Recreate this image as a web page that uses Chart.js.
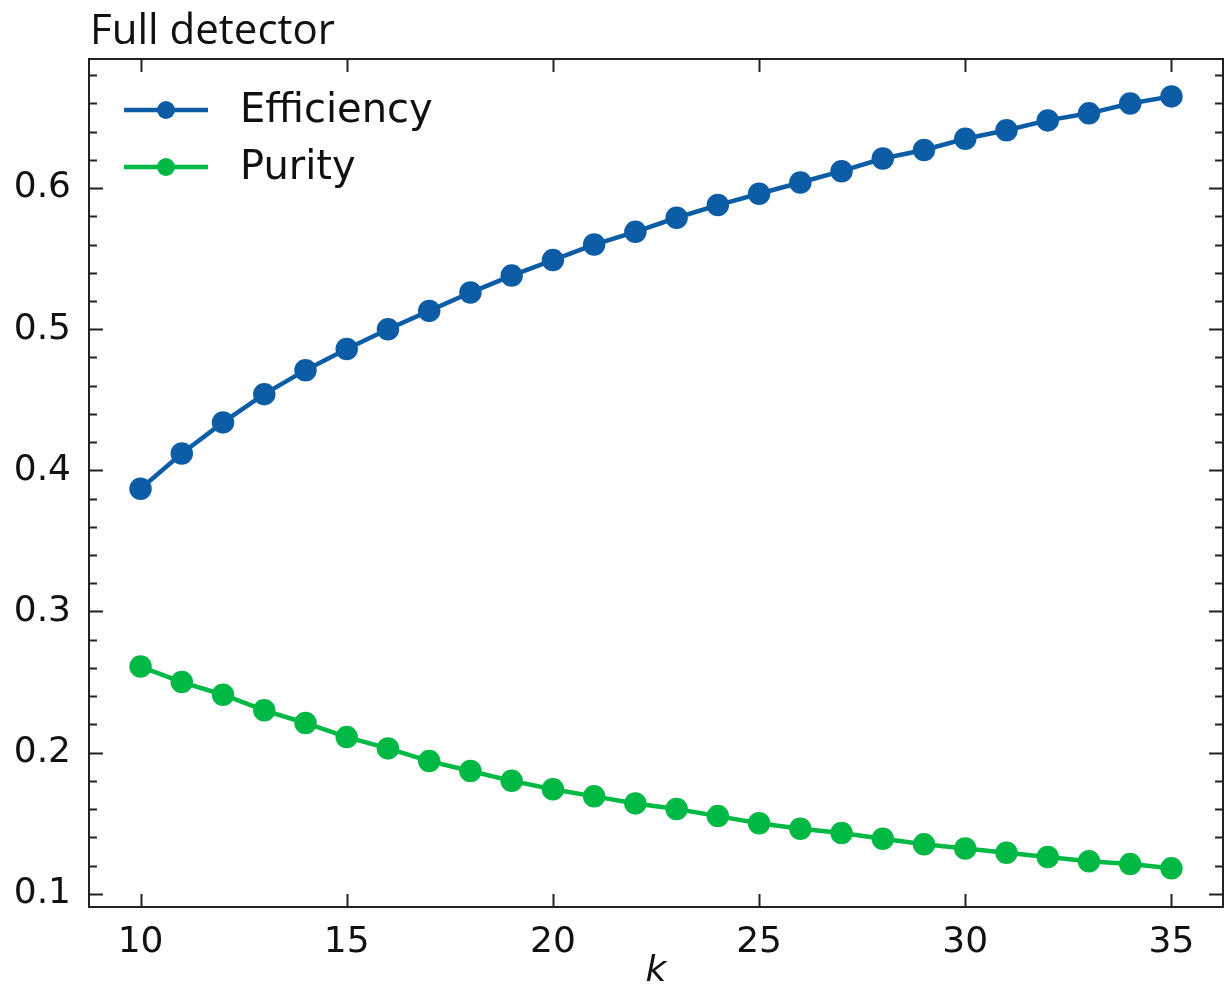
<!DOCTYPE html>
<html>
<head>
<meta charset="utf-8">
<script src="https://cdn.jsdelivr.net/npm/chart.js@4/dist/chart.umd.min.js"></script>
<style>
  html, body { margin: 0; padding: 0; background: #fff; overflow: hidden; }
  canvas { display: block; }
</style>
</head>
<body>
<canvas id="chart-1" width="1225" height="993"></canvas>
<script>
const kValues = [10, 11, 12, 13, 14, 15, 16, 17, 18, 19, 20, 21, 22, 23, 24, 25, 26, 27, 28, 29, 30, 31, 32, 33, 34, 35];
const efficiency = [0.387, 0.412, 0.434, 0.454, 0.471, 0.486, 0.500, 0.513, 0.526, 0.538, 0.549, 0.560, 0.569,
  0.579, 0.588, 0.596, 0.604, 0.612, 0.621, 0.627, 0.635, 0.641, 0.648, 0.653, 0.660, 0.665];
const purity = [0.261, 0.250, 0.241, 0.230, 0.221, 0.211, 0.203, 0.194, 0.187, 0.180, 0.174, 0.169, 0.164,
  0.160, 0.155, 0.150, 0.146, 0.143, 0.139, 0.135, 0.132, 0.129, 0.126, 0.123, 0.121, 0.118];
const xTicks = [10, 15, 20, 25, 30, 35];
const yTicks = [0.1, 0.2, 0.3, 0.4, 0.5, 0.6];

const blue = "#0c5da5";
const green = "#00b945";
const tickFont = { family: "DejaVu Sans", size: 36 };

function points(ys) {
  return kValues.map((k, i) => ({ x: k, y: ys[i] }));
}

// frame, inward ticks and legend inside the axes, matplotlib style
const framePlugin = {
  id: "frame",
  afterDraw(chart) {
    const { ctx, chartArea: a, scales } = chart;
    const xs = scales.x, ys = scales.y;
    ctx.save();
    ctx.strokeStyle = "#222";
    ctx.lineWidth = 2;
    ctx.strokeRect(a.left, a.top, a.right - a.left, a.bottom - a.top);
    ctx.beginPath();
    xTicks.forEach(v => {
      const px = Math.round(xs.getPixelForValue(v)) + 0.5;
      ctx.moveTo(px, a.bottom); ctx.lineTo(px, a.bottom - 13);
      ctx.moveTo(px, a.top); ctx.lineTo(px, a.top + 13);
    });
    for (let i = 5; i <= 34; i++) {
      const v = i / 50;
      if (v < ys.min || v > ys.max) continue;
      const len = i % 5 === 0 ? 14 : 8;
      const py = Math.round(ys.getPixelForValue(v)) + 0.5;
      ctx.moveTo(a.left, py); ctx.lineTo(a.left + len, py);
      ctx.moveTo(a.right, py); ctx.lineTo(a.right - len, py);
    }
    ctx.stroke();

    // legend
    const rows = [
      { label: chart.data.datasets[0].label, color: blue, y: 110 },
      { label: chart.data.datasets[1].label, color: green, y: 167 }
    ];
    ctx.font = "40px 'DejaVu Sans'";
    ctx.textBaseline = "middle";
    rows.forEach(r => {
      ctx.strokeStyle = r.color;
      ctx.fillStyle = r.color;
      ctx.lineWidth = 4.5;
      ctx.beginPath();
      ctx.moveTo(124, r.y); ctx.lineTo(208, r.y);
      ctx.stroke();
      ctx.beginPath();
      ctx.arc(166, r.y, 9, 0, Math.PI * 2);
      ctx.fill();
      ctx.fillStyle = "#111";
      ctx.fillText(r.label, 240, r.y + 2);
    });

    // title
    ctx.font = "42px 'Open Sans'";
    ctx.textBaseline = "alphabetic";
    ctx.fillStyle = "#111";
    ctx.fillText("Full detector", 90, 44);
    ctx.restore();
  }
};

const ctx1 = document.getElementById("chart-1").getContext("2d");
const myChart = new Chart(ctx1, {
  type: "scatter",
  data: {
    datasets: [
      {
        label: "Efficiency",
        data: points(efficiency),
        showLine: true,
        borderColor: blue,
        backgroundColor: blue,
        borderWidth: 4.5,
        pointRadius: 9,
        pointHoverRadius: 9
      },
      {
        label: "Purity",
        data: points(purity),
        showLine: true,
        borderColor: green,
        backgroundColor: green,
        borderWidth: 4.5,
        pointRadius: 9,
        pointHoverRadius: 9
      }
    ]
  },
  options: {
    responsive: false,
    animation: false,
    layout: { autoPadding: false, padding: { top: 59, right: 2, left: 0, bottom: 0 } },
    plugins: {
      legend: { display: false },
      tooltip: { enabled: false }
    },
    scales: {
      x: {
        type: "linear",
        min: 8.75,
        max: 36.25,
        afterFit(scale) {
          scale.height = 86;
          scale.paddingLeft = 0;
          scale.paddingRight = 0;
        },
        afterBuildTicks(scale) { scale.ticks = xTicks.map(v => ({ value: v })); },
        grid: { display: false },
        border: { display: false },
        ticks: { font: tickFont, color: "#111", padding: 6 },
        title: {
          display: true,
          text: "k",
          font: { family: "DejaVu Sans", size: 36, style: "italic" },
          color: "#111",
          padding: { top: 0, bottom: 0 }
        }
      },
      y: {
        type: "linear",
        min: 0.0906,
        max: 0.6915,
        afterFit(scale) {
          scale.width = 89;
          scale.paddingTop = 0;
          scale.paddingBottom = 0;
        },
        afterBuildTicks(scale) { scale.ticks = yTicks.map(v => ({ value: v })); },
        grid: { display: false },
        border: { display: false },
        ticks: {
          font: tickFont,
          color: "#111",
          padding: 10,
          callback: v => v.toFixed(1)
        }
      }
    }
  },
  plugins: [framePlugin]
});
</script>
</body>
</html>
